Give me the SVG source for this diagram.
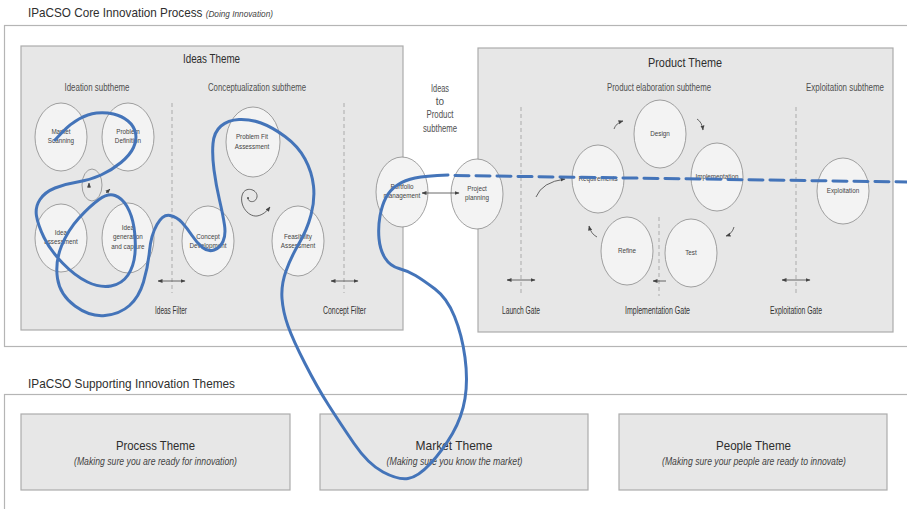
<svg xmlns="http://www.w3.org/2000/svg" width="907" height="509" viewBox="0 0 907 509">
<style>
text{font-family:"Liberation Sans",Arial,sans-serif;fill:#3a3a3a}
.frame{fill:#fff;stroke:#b5b5b5;stroke-width:1.2}
.panel{fill:#e7e7e7;stroke:#acacac;stroke-width:1.2}
.box{fill:#e7e7e7;stroke:#acacac;stroke-width:1.2}
.node{fill:#f3f3f3;stroke:#8a8a8a;stroke-width:0.8}
.gate{stroke:#ababab;stroke-width:1;stroke-dasharray:4 3;fill:none}
.arr{stroke:#444;stroke-width:0.8;fill:none}
.title{font-size:13.5px;fill:#2e2e2e}
.theme{font-size:13px;fill:#2e2e2e}
.sub{font-size:10px;fill:#505050}
.gl{font-size:10px;fill:#333}
.nl{font-size:6.3px;fill:#444}
.it{font-size:10px;font-style:italic;fill:#444}
.blue{fill:none;stroke:#4474b9;stroke-width:3;stroke-linecap:round;stroke-linejoin:round}
</style>
<defs>
<marker id="ah" viewBox="0 0 10 10" refX="9" refY="5" markerWidth="5" markerHeight="5" markerUnits="userSpaceOnUse" orient="auto-start-reverse"><path d="M0,1 L10,5 L0,9 z" fill="#444"/></marker>
</defs>

<g id="core-frame">
<rect class="frame" x="4.5" y="25.5" width="960" height="321"/>
<text class="title" x="28" y="17" textLength="245" lengthAdjust="spacingAndGlyphs">IPaCSO Core Innovation Process <tspan font-size="9.5" font-style="italic" fill="#444">(Doing Innovation)</tspan></text>
</g>

<g id="ideas-theme">
<rect class="panel" x="21" y="46" width="382" height="284"/>
<text class="theme" x="211.5" y="63" text-anchor="middle" textLength="57" lengthAdjust="spacingAndGlyphs">Ideas Theme</text>
<text class="sub" x="97" y="91" text-anchor="middle" textLength="65" lengthAdjust="spacingAndGlyphs">Ideation subtheme</text>
<text class="sub" x="257" y="91" text-anchor="middle" textLength="98" lengthAdjust="spacingAndGlyphs">Conceptualization subtheme</text>
<line class="gate" x1="172" y1="103" x2="172" y2="293"/>
<line class="gate" x1="344" y1="103" x2="344" y2="293"/>
<text class="gl" x="171" y="314" text-anchor="middle" textLength="32" lengthAdjust="spacingAndGlyphs">Ideas Filter</text>
<text class="gl" x="344.5" y="314" text-anchor="middle" textLength="43" lengthAdjust="spacingAndGlyphs">Concept Filter</text>
</g>

<g id="market-scanning"><ellipse class="node" cx="61" cy="137" rx="26" ry="34"/>
<text class="nl" x="61" y="134" text-anchor="middle">Market</text><text class="nl" x="61" y="143" text-anchor="middle">Scanning</text></g>
<g id="problem-definition"><ellipse class="node" cx="128" cy="137" rx="26" ry="34"/>
<text class="nl" x="128" y="134" text-anchor="middle">Problem</text><text class="nl" x="128" y="143" text-anchor="middle">Definition</text></g>
<g id="idea-assessment"><ellipse class="node" cx="61" cy="238" rx="26" ry="34"/>
<text class="nl" x="61" y="235" text-anchor="middle">Idea</text><text class="nl" x="61" y="244" text-anchor="middle">assessment</text></g>
<g id="idea-generation"><ellipse class="node" cx="128" cy="238" rx="26" ry="35"/>
<text class="nl" x="128" y="230" text-anchor="middle">Idea</text><text class="nl" x="128" y="239" text-anchor="middle">generation</text><text class="nl" x="128" y="249" text-anchor="middle">and capture</text></g>
<g id="ideation-cycle"><ellipse cx="92" cy="185" rx="10" ry="16" fill="none" stroke="#8a8a8a" stroke-width="0.8"/>
<path class="arr" d="M89,188 L89,183" marker-end="url(#ah)"/><path class="arr" d="M106,193 L110,189" marker-end="url(#ah)"/></g>
<g id="concept-development"><ellipse class="node" cx="208" cy="241" rx="26" ry="35"/>
<text class="nl" x="208" y="239" text-anchor="middle">Concept</text><text class="nl" x="208" y="248" text-anchor="middle">Development</text></g>
<g id="problem-fit"><ellipse class="node" cx="253" cy="142" rx="27" ry="35"/>
<text class="nl" x="252" y="139" text-anchor="middle">Problem Fit</text><text class="nl" x="252" y="149" text-anchor="middle">Assessment</text></g>
<g id="feasibility"><ellipse class="node" cx="298" cy="241" rx="26" ry="35"/>
<text class="nl" x="298" y="239" text-anchor="middle">Feasibility</text><text class="nl" x="298" y="248" text-anchor="middle">Assessment</text></g>
<g id="concept-cycle"><circle cx="248" cy="198" r="0.9" fill="#444"/>
<path class="arr" d="M248,198 C248,203 256,203 257,197 C258,190 247,186 243,193 C238,203 247,217 257,216 C263,215 267,211 270,207" marker-end="url(#ah)"/></g>

<g id="ideas-to-product">
<text class="sub" x="440" y="91.5" text-anchor="middle" font-size="9.5" textLength="18" lengthAdjust="spacingAndGlyphs">Ideas</text>
<text class="sub" x="440" y="104.5" text-anchor="middle" font-size="9.5">to</text>
<text class="sub" x="440" y="117.5" text-anchor="middle" font-size="9.5" textLength="27" lengthAdjust="spacingAndGlyphs">Product</text>
<text class="sub" x="440" y="131.5" text-anchor="middle" font-size="9.5" textLength="34" lengthAdjust="spacingAndGlyphs">subtheme</text>
</g>

<g id="product-theme">
<rect class="panel" x="478" y="48" width="415" height="284"/>
<text class="theme" x="685" y="67" text-anchor="middle" textLength="74" lengthAdjust="spacingAndGlyphs">Product Theme</text>
<text class="sub" x="659" y="91" text-anchor="middle" textLength="104" lengthAdjust="spacingAndGlyphs">Product elaboration subtheme</text>
<text class="sub" x="845" y="91" text-anchor="middle" textLength="78" lengthAdjust="spacingAndGlyphs">Exploitation subtheme</text>
<line class="gate" x1="521" y1="107" x2="521" y2="296"/>
<line class="gate" x1="659" y1="217" x2="659" y2="296"/>
<line class="gate" x1="796" y1="107" x2="796" y2="296"/>
<text class="gl" x="521" y="314" text-anchor="middle" textLength="38" lengthAdjust="spacingAndGlyphs">Launch Gate</text>
<text class="gl" x="657.5" y="314" text-anchor="middle" textLength="65" lengthAdjust="spacingAndGlyphs">Implementation Gate</text>
<text class="gl" x="796" y="314" text-anchor="middle" textLength="52" lengthAdjust="spacingAndGlyphs">Exploitation Gate</text>
</g>

<g id="portfolio-management"><ellipse class="node" cx="402" cy="192" rx="26" ry="35"/>
<text class="nl" x="402" y="189" text-anchor="middle">Portfolio</text><text class="nl" x="402" y="198" text-anchor="middle">management</text></g>
<g id="project-planning"><ellipse class="node" cx="477" cy="194" rx="26" ry="35"/>
<text class="nl" x="477" y="191" text-anchor="middle">Project</text><text class="nl" x="477" y="200" text-anchor="middle">planning</text></g>
<g id="design"><ellipse class="node" cx="660" cy="134" rx="26" ry="34"/><text class="nl" x="660" y="136" text-anchor="middle">Design</text></g>
<g id="requirements"><ellipse class="node" cx="598" cy="179" rx="26" ry="34"/><text class="nl" x="598" y="181" text-anchor="middle" font-size="6">Requirements</text></g>
<g id="implementation"><ellipse class="node" cx="717" cy="177" rx="26" ry="34"/><text class="nl" x="717" y="179" text-anchor="middle" font-size="5.8">Implementation</text></g>
<g id="refine"><ellipse class="node" cx="627" cy="251" rx="26" ry="34"/><text class="nl" x="627" y="253" text-anchor="middle">Refine</text></g>
<g id="test"><ellipse class="node" cx="691" cy="253" rx="26" ry="34"/><text class="nl" x="691" y="255" text-anchor="middle">Test</text></g>
<g id="exploitation"><ellipse class="node" cx="843" cy="191" rx="26" ry="33"/><text class="nl" x="843" y="193" text-anchor="middle">Exploitation</text></g>

<g id="supporting-frame">
<rect class="frame" x="4.5" y="394.5" width="960" height="200"/>
<text class="title" x="28" y="388" textLength="207" lengthAdjust="spacingAndGlyphs">IPaCSO Supporting Innovation Themes</text>
</g>
<g id="process-theme"><rect class="box" x="21" y="414" width="269" height="76"/>
<text class="theme" x="155.5" y="450" text-anchor="middle" font-size="14" textLength="79" lengthAdjust="spacingAndGlyphs">Process Theme</text>
<text class="it" x="155.5" y="465" text-anchor="middle" textLength="163" lengthAdjust="spacingAndGlyphs">(Making sure you are ready for innovation)</text></g>
<g id="market-theme"><rect class="box" x="320" y="414" width="268" height="76"/>
<text class="theme" x="454" y="450" text-anchor="middle" font-size="14" textLength="77" lengthAdjust="spacingAndGlyphs">Market Theme</text>
<text class="it" x="454.5" y="465" text-anchor="middle" textLength="136" lengthAdjust="spacingAndGlyphs">(Making sure you know the market)</text></g>
<g id="people-theme"><rect class="box" x="619" y="414" width="268" height="76"/>
<text class="theme" x="753.5" y="450" text-anchor="middle" font-size="14" textLength="75" lengthAdjust="spacingAndGlyphs">People Theme</text>
<text class="it" x="754" y="465" text-anchor="middle" textLength="184" lengthAdjust="spacingAndGlyphs">(Making sure your people are ready to innovate)</text></g>

<g id="connectors">
<line class="arr" x1="158" y1="281" x2="185" y2="281" marker-start="url(#ah)" marker-end="url(#ah)"/>
<line class="arr" x1="331" y1="281" x2="358" y2="281" marker-start="url(#ah)" marker-end="url(#ah)"/>
<line class="arr" x1="422" y1="193" x2="459" y2="193" marker-start="url(#ah)" marker-end="url(#ah)"/>
<line class="arr" x1="507" y1="280" x2="535" y2="280" marker-start="url(#ah)" marker-end="url(#ah)"/>
<line class="arr" x1="782" y1="280" x2="810" y2="280" marker-start="url(#ah)" marker-end="url(#ah)"/>
<path class="arr" d="M666,281 H653" marker-end="url(#ah)"/>
<path class="arr" d="M536,197 Q542,182 565,179" marker-end="url(#ah)"/>
<path class="arr" d="M614,129 Q616,123 623,121" marker-end="url(#ah)"/>
<path class="arr" d="M697,119 Q702,122 703,130" marker-end="url(#ah)"/>
<path class="arr" d="M734,227 Q732,234 726,236" marker-end="url(#ah)"/>
<path class="arr" d="M597,237 Q591,234 589,226" marker-end="url(#ah)"/>
</g>

<g id="annotation">
<path class="blue" d="M55,140 L62.5,132 Q70,124 79,119 Q88,114 96.5,113 Q105,112 113.5,114 Q122,116 128,121 Q134,126 135.5,133 Q137,140 133.5,147.5 Q130,155 121,162.5 Q112,170 101,175 Q90,180 77.5,182 Q65,184 55,188 Q45,192 40,199.5 Q35,207 36.5,216 Q38,225 44,237.5 Q50,250 62.5,263 Q75,276 87.5,282 Q100,288 111,286 Q122,284 128,275 Q134,266 135,253 Q136,240 134,227.5 Q132,215 127,206.5 Q122,198 115,195.5 Q108,193 99,199.5 Q90,206 79,218 Q68,230 61.5,246 Q55,262 57.5,278.5 Q60,295 75,306 Q90,317 105,315.5 Q120,314 129.5,305.5 Q139,297 143.5,282 Q148,267 149.5,251 Q151,235 157,224.5 Q163,214 170,215.5 Q177,217 182,222.5 Q187,228 192,235.5 Q197,243 202.5,247.5 Q208,252 214,250 Q220,248 223,241.5 Q226,235 224.5,225 Q223,215 219.5,200 Q216,185 214,170 Q212,155 213,143.5 Q214,132 221,126 Q228,120 239,119.5 Q250,119 261,123 Q272,127 285,136.5 Q298,146 305,159 Q312,172 313.5,186 Q315,200 311,215 Q307,230 299,243.5 Q291,257 286,271 Q281,285 282,298.5 Q283,312 288,326 Q293,340 305,363.5 Q317,387 328.5,405 Q340,423 354,443.5 Q368,464 383,472 Q398,480 408,478.5 Q418,477 430.5,463.5 Q443,450 452.5,433.5 Q462,417 465,398.5 Q468,380 465,357.5 Q462,335 454.5,316.5 Q447,298 435,289 Q423,280 415.5,275.5 Q408,271 399,268.5 Q390,266 385,258 Q380,250 379,238.5 Q378,227 380,216 Q382,205 386,197.5 Q390,190 397.5,185 Q405,180 415,178 Q425,176 448,175"/>
<path class="blue" d="M455,175.5 L907,182" stroke-dasharray="14 7" stroke-linecap="butt" stroke-width="3.5"/>
</g>
</svg>
